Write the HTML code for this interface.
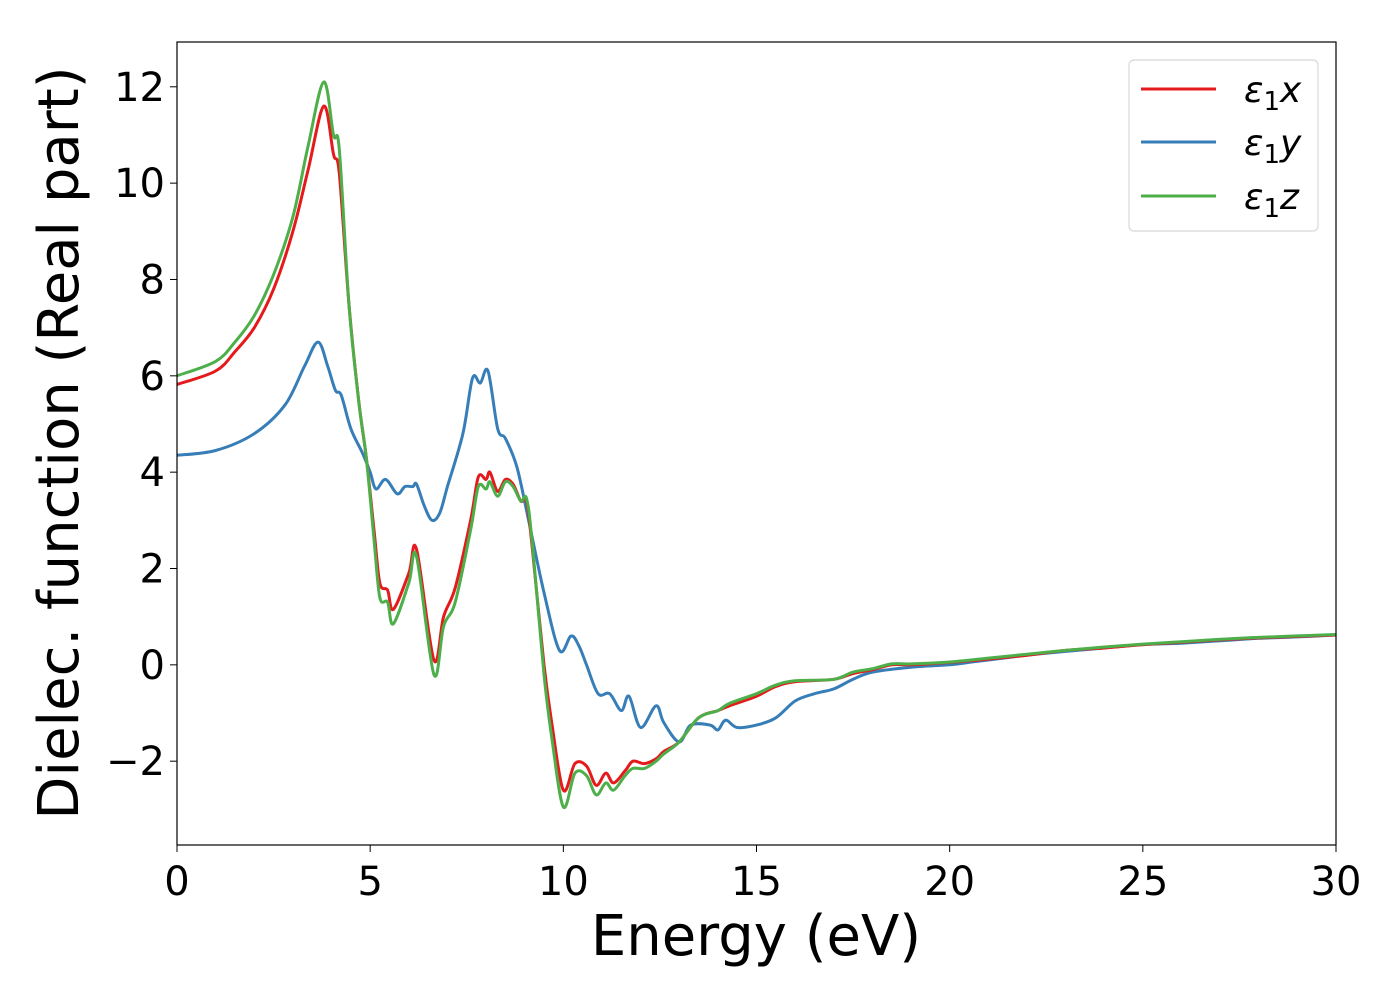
<!DOCTYPE html>
<html><head><meta charset="utf-8"><style>
body{margin:0;background:#fff}
svg{display:block;font-family:"DejaVu Sans","Liberation Sans",sans-serif}
</style></head><body>
<svg id="chart" width="1400" height="1000">
<rect x="0" y="0" width="1400" height="1000" fill="#fff"/>
<g id="lines"></g>
<rect x="177" y="42" width="1159" height="803" fill="none" stroke="#000" stroke-width="1.2"/>
<g id="axes"></g>
<text x="756" y="955" font-size="56" text-anchor="middle">Energy (eV)</text>
<text transform="translate(78,443) rotate(-90)" font-size="56" text-anchor="middle">Dielec. function (Real part)</text>
<g>
<rect x="1129" y="60" width="189" height="171" rx="5" fill="#fff" stroke="#d8d8d8" stroke-width="1.2"/>
<g><line x1="1141" y1="89" x2="1216" y2="89" stroke="#e41a1c" stroke-width="3"/><text x="1244" y="102" font-size="36" font-style="italic">ε<tspan font-style="normal" font-size="26" dy="8">1</tspan><tspan dy="-8">x</tspan></text></g>
<g><line x1="1141" y1="142" x2="1216" y2="142" stroke="#377eb8" stroke-width="3"/><text x="1244" y="155" font-size="36" font-style="italic">ε<tspan font-style="normal" font-size="26" dy="8">1</tspan><tspan dy="-8">y</tspan></text></g>
<g><line x1="1141" y1="196" x2="1216" y2="196" stroke="#4daf4a" stroke-width="3"/><text x="1244" y="209" font-size="36" font-style="italic">ε<tspan font-style="normal" font-size="26" dy="8">1</tspan><tspan dy="-8">z</tspan></text></g>
</g>
</svg>
<script>
const xTicks=[0,5,10,15,20,25,30];
const yTicks=[-2,0,2,4,6,8,10,12];
const yTickLabels=["\u22122","0","2","4","6","8","10","12"];
const eX=[0,1,1.5,2,2.5,3,3.4,3.8,4.05,4.2,4.45,4.7,4.9,5.1,5.25,5.45,5.6,6.0,6.2,6.65,6.9,7.2,7.6,7.8,8.0,8.1,8.3,8.5,8.7,8.9,9.05,9.2,9.5,9.7,10.0,10.3,10.6,10.85,11.1,11.3,11.6,11.8,12.1,12.4,12.6,13,13.5,14,14.3,15,15.5,16,17,17.5,18,18.5,19,20,21,22,23,24,25,26,27,28,29,30];
const vX=[5.82,6.1,6.5,7.0,7.8,9.0,10.3,11.6,10.6,10.2,7.5,5.5,4.3,2.8,1.7,1.55,1.15,1.9,2.4,0.1,1.0,1.6,3.0,3.9,3.85,4.0,3.6,3.85,3.75,3.4,3.4,2.4,0,-1.2,-2.6,-2.05,-2.1,-2.5,-2.25,-2.45,-2.2,-2.0,-2.05,-1.95,-1.8,-1.6,-1.1,-0.95,-0.85,-0.65,-0.45,-0.35,-0.3,-0.18,-0.1,0.0,0.0,0.05,0.12,0.2,0.3,0.35,0.42,0.47,0.52,0.56,0.59,0.62];
const vZ=[6.0,6.3,6.7,7.25,8.1,9.3,10.8,12.1,11.0,10.7,7.5,5.5,4.3,2.6,1.4,1.3,0.85,1.7,2.25,-0.2,0.8,1.3,2.8,3.7,3.65,3.8,3.5,3.8,3.7,3.4,3.45,2.5,-0.2,-1.5,-2.95,-2.25,-2.3,-2.7,-2.45,-2.6,-2.3,-2.15,-2.15,-2.0,-1.85,-1.6,-1.1,-0.95,-0.8,-0.6,-0.42,-0.33,-0.3,-0.15,-0.08,0.02,0.02,0.06,0.14,0.22,0.3,0.37,0.43,0.48,0.53,0.57,0.6,0.63];
const eY=[0,1,2,2.8,3.3,3.65,3.9,4.1,4.25,4.5,4.8,5.0,5.15,5.4,5.7,5.9,6.1,6.2,6.4,6.6,6.8,7.0,7.4,7.65,7.85,8.05,8.3,8.5,8.8,9.1,9.5,9.9,10.2,10.4,10.6,10.9,11.2,11.5,11.7,12.0,12.4,12.6,13.0,13.3,13.8,14.0,14.2,14.5,15.0,15.5,16,16.5,17,17.5,18,19,20,20.5,21,22,23,24,25,26,27,28,29,30];
const vY=[4.35,4.45,4.8,5.4,6.2,6.7,6.2,5.7,5.6,4.9,4.4,4.0,3.65,3.85,3.55,3.7,3.7,3.75,3.3,3.0,3.15,3.7,4.8,5.95,5.85,6.1,4.9,4.7,4.1,3.0,1.5,0.3,0.6,0.4,0.0,-0.6,-0.6,-0.95,-0.65,-1.3,-0.85,-1.2,-1.6,-1.25,-1.25,-1.35,-1.15,-1.3,-1.25,-1.1,-0.75,-0.6,-0.5,-0.3,-0.15,-0.05,0.0,0.05,0.1,0.2,0.28,0.35,0.42,0.45,0.5,0.55,0.58,0.62];

const X0=177,X1=1336,Yt=42,Yb=845,ymin=-3.74,ymax=12.93;
function sx(e){return X0+(e-0)/(30-0)*(X1-X0);}
function sy(v){return Yb-(v-ymin)/(ymax-ymin)*(Yb-Yt);}
const NS="http://www.w3.org/2000/svg";
function pathFor(es,vs){
  const p=es.map((e,i)=>[sx(e),sy(vs[i])]);
  let d="M"+p[0][0].toFixed(1)+","+p[0][1].toFixed(1);
  for(let i=0;i<p.length-1;i++){
    const a=p[Math.max(0,i-1)],b=p[i],c=p[i+1],n=p[Math.min(p.length-1,i+2)];
    const c1=[b[0]+(c[0]-a[0])/6,b[1]+(c[1]-a[1])/6],c2=[c[0]-(n[0]-b[0])/6,c[1]-(n[1]-b[1])/6];
    d+=" C"+c1.map(v=>v.toFixed(1))+" "+c2.map(v=>v.toFixed(1))+" "+c[0].toFixed(1)+","+c[1].toFixed(1);
  }
  return d;
}
const L=document.getElementById("lines");
[[eY,vY,"#377eb8","series-eps1-y"],[eX,vX,"#e41a1c","series-eps1-x"],[eX,vZ,"#4daf4a","series-eps1-z"]].forEach(s=>{
  const el=document.createElementNS(NS,"path");
  el.setAttribute("d",pathFor(s[0],s[1]));
  el.setAttribute("fill","none");el.setAttribute("stroke",s[2]);el.setAttribute("stroke-width","3");
  
  
  L.appendChild(el);
});
const A=document.getElementById("axes");
xTicks.forEach(t=>{
  const ln=document.createElementNS(NS,"line");
  ln.setAttribute("x1",sx(t));ln.setAttribute("x2",sx(t));ln.setAttribute("y1",Yb);ln.setAttribute("y2",Yb+7);ln.setAttribute("stroke","#000");
  
  
  A.appendChild(ln);
  const tx=document.createElementNS(NS,"text");
  tx.setAttribute("x",sx(t));tx.setAttribute("y",Yb+50);tx.setAttribute("font-size","40");tx.setAttribute("text-anchor","middle");
  tx.textContent=String(t);
  
  
  A.appendChild(tx);
});
yTicks.forEach((t,i)=>{
  const ln=document.createElementNS(NS,"line");
  ln.setAttribute("x1",X0-7);ln.setAttribute("x2",X0);ln.setAttribute("y1",sy(t));ln.setAttribute("y2",sy(t));ln.setAttribute("stroke","#000");
  
  
  A.appendChild(ln);
  const tx=document.createElementNS(NS,"text");
  tx.setAttribute("x",X0-12);tx.setAttribute("y",sy(t)+14);tx.setAttribute("font-size","40");tx.setAttribute("text-anchor","end");
  tx.textContent=yTickLabels[i];
  
  
  A.appendChild(tx);
});
</script>
</body></html>
